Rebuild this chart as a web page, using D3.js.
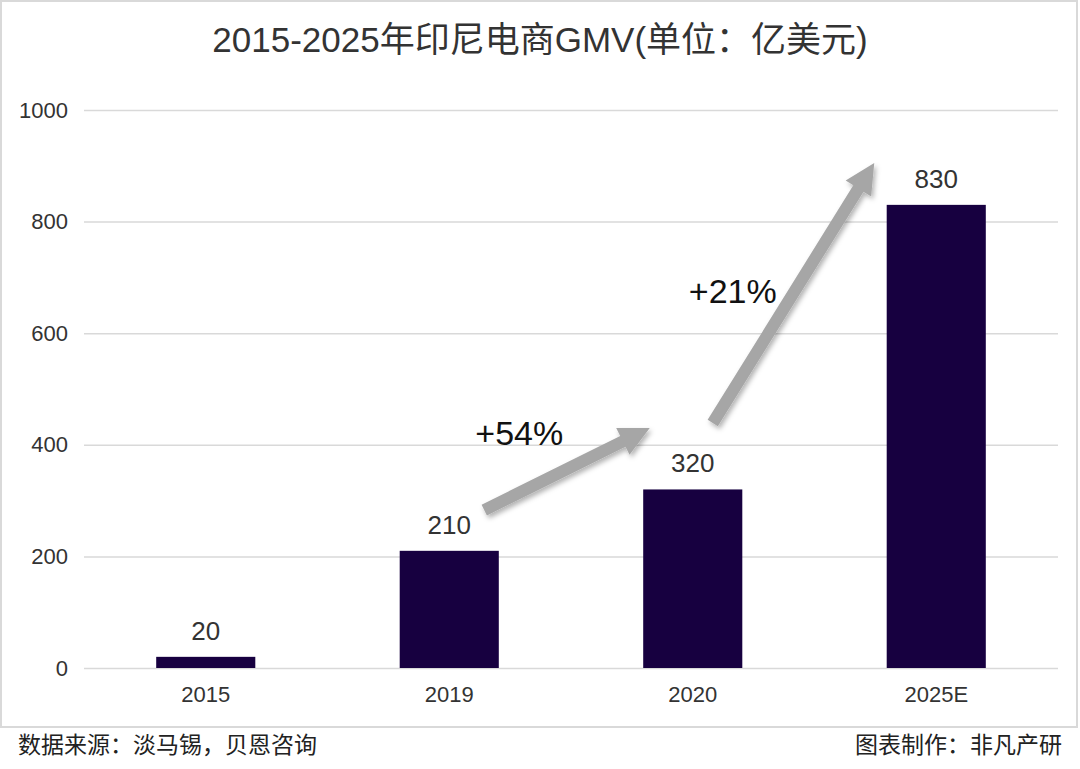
<!DOCTYPE html>
<html>
<head>
<meta charset="utf-8">
<script src="https://cdn.jsdelivr.net/npm/d3@7"></script>
<style>
  body { margin: 0; background: #fff; }
  svg { display: block; font-family: "Liberation Sans", Arial, "Noto Sans CJK SC", sans-serif; }
</style>
</head>
<body>
<svg id="chart" width="1080" height="769"></svg>
<script>
const categories = ['2015', '2019', '2020', '2025E'];
const gmv = [20, 210, 320, 830];
const yTicks = [0, 200, 400, 600, 800, 1000];
// growth arrows: anchored to categories, in value units
const growth = [
  { label: '+54%', from: '2019', to: '2020', fromVal: 283, toVal: 430, fromDx: 35, toDx: -43, labelVal: 400, labelDx: 70 },
  { label: '+21%', from: '2020', to: '2025E', fromVal: 439, toVal: 905, fromDx: 20, toDx: -62, labelVal: 655, labelDx: 40 }
];

const width = 1080, height = 769;
const margin = { top: 110, right: 22, bottom: 101, left: 84 };

const svg = d3.select('#chart');

// frame
svg.append('rect')
  .attr('x', 1).attr('y', 1)
  .attr('width', 1076).attr('height', 726)
  .attr('fill', '#fff')
  .attr('stroke', '#d9d9d9')
  .attr('stroke-width', 2);

const x = d3.scaleBand()
  .domain(categories)
  .range([margin.left, width - margin.right])
  .paddingInner(0.593)
  .paddingOuter(0.2965);

const y = d3.scaleLinear()
  .domain([0, 1000])
  .range([height - margin.bottom, margin.top]);

const cx = c => x(c) + x.bandwidth() / 2;

// grid + y labels
const yAxis = svg.append('g')
  .attr('transform', `translate(${margin.left},0)`)
  .call(d3.axisLeft(y).tickValues(yTicks).tickFormat(d3.format('d'))
    .tickSize(-(width - margin.left - margin.right)).tickPadding(16));
yAxis.select('.domain').remove();
yAxis.selectAll('.tick line').attr('stroke', '#d9d9d9').attr('stroke-width', 1.5);
yAxis.selectAll('.tick text')
  .attr('fill', '#333')
  .style('font-size', '22px')
  .style('font-family', '"Liberation Sans", Arial, sans-serif');

// bars
svg.append('g').selectAll('rect')
  .data(gmv)
  .enter().append('rect')
  .attr('x', (d, i) => x(categories[i]))
  .attr('y', d => y(d))
  .attr('width', x.bandwidth())
  .attr('height', d => y(0) - y(d))
  .attr('fill', '#170040');

// value labels
svg.append('g').selectAll('text')
  .data(gmv)
  .enter().append('text')
  .attr('x', (d, i) => cx(categories[i]))
  .attr('y', d => y(d) - 17)
  .attr('text-anchor', 'middle')
  .attr('fill', '#333')
  .style('font-size', '26px')
  .text(d => d);

// x labels
const xAxis = svg.append('g')
  .attr('transform', `translate(0,${y(0)})`)
  .call(d3.axisBottom(x).tickSize(0).tickPadding(18));
xAxis.select('.domain').remove();
xAxis.selectAll('.tick text')
  .attr('fill', '#333')
  .style('font-size', '22px')
  .style('font-family', '"Liberation Sans", Arial, sans-serif');

// arrows
const defs = svg.append('defs');
const f = defs.append('filter').attr('id', 'shadow')
  .attr('x', '-20%').attr('y', '-20%').attr('width', '140%').attr('height', '140%');
f.append('feDropShadow')
  .attr('dx', 2).attr('dy', 3).attr('stdDeviation', 2.5)
  .attr('flood-color', '#000').attr('flood-opacity', 0.3);

function arrowPath(x0, y0, x1, y1) {
  const shaft = 6, head = 15, headLen = 30;
  const len = Math.hypot(x1 - x0, y1 - y0);
  const ux = (x1 - x0) / len, uy = (y1 - y0) / len;
  const nx = -uy, ny = ux;
  const bx = x1 - ux * headLen, by = y1 - uy * headLen;
  const pts = [
    [x0 + nx * shaft, y0 + ny * shaft],
    [bx + nx * shaft, by + ny * shaft],
    [bx + nx * head, by + ny * head],
    [x1, y1],
    [bx - nx * head, by - ny * head],
    [bx - nx * shaft, by - ny * shaft],
    [x0 - nx * shaft, y0 - ny * shaft]
  ];
  return 'M' + pts.map(p => p.join(',')).join('L') + 'Z';
}

const ann = svg.append('g');
ann.selectAll('path')
  .data(growth)
  .enter().append('path')
  .attr('d', d => arrowPath(cx(d.from) + d.fromDx, y(d.fromVal), cx(d.to) + d.toDx, y(d.toVal)))
  .attr('fill', '#a6a6a6')
  .attr('filter', 'url(#shadow)');

ann.selectAll('text')
  .data(growth)
  .enter().append('text')
  .attr('x', d => cx(d.from) + d.labelDx)
  .attr('y', d => y(d.labelVal))
  .attr('text-anchor', 'middle')
  .attr('fill', '#111')
  .style('font-size', '34px')
  .text(d => d.label);

// title
svg.append('text')
  .attr('x', width / 2)
  .attr('y', 52)
  .attr('text-anchor', 'middle')
  .attr('fill', '#333')
  .style('font-size', '35px')
  .text('2015-2025年印尼电商GMV(单位：亿美元)');

// footer
svg.append('text')
  .attr('x', 18).attr('y', 753)
  .attr('fill', '#222')
  .style('font-size', '23px')
  .text('数据来源：淡马锡，贝恩咨询');
svg.append('text')
  .attr('x', 1062).attr('y', 753)
  .attr('text-anchor', 'end')
  .attr('fill', '#222')
  .style('font-size', '23px')
  .text('图表制作：非凡产研');
</script>
</body>
</html>
